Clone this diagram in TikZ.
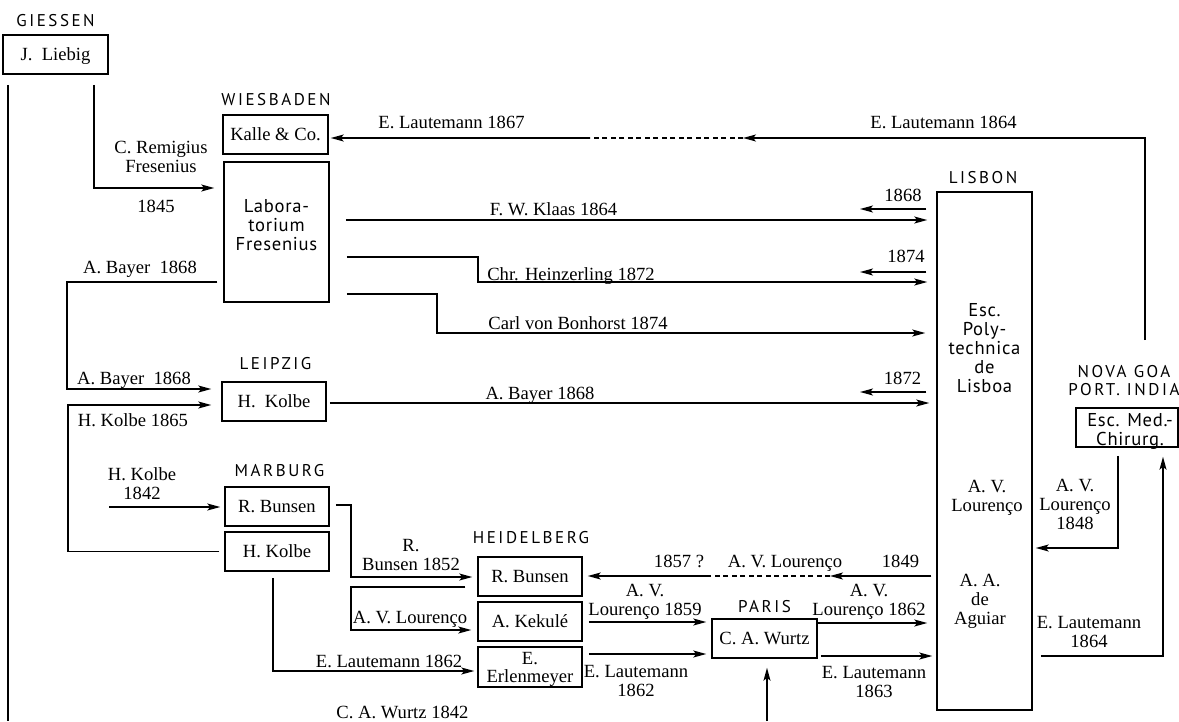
\documentclass[tikz,border=0pt]{standalone}
\usepackage{fontspec}
\setmainfont{Liberation Serif}
\newfontfamily\citysf[LetterSpace=15]{PT Sans}
\newfontfamily\boxsf[LetterSpace=4]{PT Sans}
\usetikzlibrary{arrows.meta}
\newcommand\sz{\fontsize{18.6}{19}\selectfont}
\newcommand\csz{\fontsize{17}{18}\selectfont}
\begin{document}
\begin{tikzpicture}[x=1pt,y=-1pt,
  ln/.style={line width=1.4pt},
  arr/.style={line width=1.4pt,-{Stealth[length=13pt,width=7pt,inset=3pt]}},
  dsh/.style={line width=1.4pt,dash pattern=on 5pt off 3.5pt},
  box/.style={draw,line width=1.5pt,inner sep=0pt,font=\sz,text height=12.3pt,text depth=0pt,minimum width=105pt,minimum height=39pt},
  lab/.style={font=\sz,inner sep=0pt,anchor=base},
  mlab/.style={font=\sz,inner sep=0pt,align=center},
  city/.style={font=\csz\citysf,inner sep=0pt,anchor=base},
  sftext/.style={font=\sz\boxsf,inner sep=0pt,align=center},
]
\useasboundingbox (0,0) rectangle (1179,721);

% ---------- city labels
\node[city] (c-giessen) at (55.5,26) {GIESSEN};
\node[city] (c-wiesbaden) at (276,105) {WIESBADEN};
\node[city] (c-leipzig) at (275.5,369) {LEIPZIG};
\node[city] (c-marburg) at (279.5,476) {MARBURG};
\node[city] (c-heidelberg) at (531,543) {HEIDELBERG};
\node[city] (c-paris) at (764.5,612) {PARIS};
\node[city] (c-lisbon) at (983,183) {LISBON};
\node[font=\csz\citysf,inner sep=0pt,align=center] (c-goa) at (1124,380.5) {NOVA GOA\\PORT. INDIA};

% ---------- boxes
\node[box] (liebig) at (55.5,54.5) {J.\ \ Liebig};
\node[box] (kalle) at (275.5,134.5) {Kalle \& Co.};
\node[box,minimum height=140pt] (labor) at (276.5,232) {};
\node[sftext] (labor-t) at (276.5,225.5) {Labora-\\torium\\Fresenius};
\node[box,minimum width=104pt] (leipzig) at (274,401.5) {H.\ \ Kolbe};
\node[box,minimum width=104pt] (mbunsen) at (277,506.5) {R. Bunsen};
\node[box,minimum width=104pt] (mkolbe) at (277,551.5) {H. Kolbe};
\node[box,minimum width=104pt] (hbunsen) at (530,576.5) {R. Bunsen};
\node[box,minimum width=104pt] (kekule) at (530,621.5) {A. Kekulé};
\node[box,minimum width=104pt,minimum height=40pt] (erlen) at (530,667) {};
\node[mlab] (erlen-t) at (530,669) {E.\\[-1pt]Erlenmeyer};
\node[box] (wurtz) at (764.5,638.5) {C. A. Wurtz};
\node[box,minimum width=95pt,minimum height=518pt] (lisbon) at (984.5,451) {};
\node[sftext] (lisbon-t) at (984.5,348.5) {Esc.\\Poly-\\technica\\de\\Lisboa};
\node[mlab] (lisbon-av) at (987,498.3) {A. V.\\Lourenço};
\node[mlab] (lisbon-aa) at (980,601.8) {A. A.\\de\\Aguiar};
\node[box,minimum width=102pt] (goa) at (1127,427.5) {};
\node[sftext] (goa-t) at (1130,431) {Esc. Med.-\\Chirurg.};

% ---------- free-end coordinates
\coordinate (bottomL) at (8,721);
\coordinate (goaTop) at (1145,340);
\coordinate (d1) at (743,138);
\coordinate (d2) at (590,138);
\coordinate (r1868) at (860,209);
\coordinate (r1874) at (860,272);
\coordinate (r1872) at (860,392);
\coordinate (k1842) at (109,507);
\coordinate (w1842) at (767,721);
\coordinate (l1849) at (830,576);
\coordinate (l1857) at (710,576);

% ---------- connectors
\draw[ln,shorten <=10pt] (liebig.south -| 8,0) -- (bottomL);
\draw[arr,shorten <=10pt,shorten >=9pt] (liebig.south -| 94,0) |- (labor.west |- 0,188);

\draw[arr] (goaTop) |- (d1);
\draw[dsh] (d1) -- (d2);
\draw[arr,shorten >=2pt] (d2) -- (kalle.east |- 0,138);

\draw[arr,shorten <=16pt,shorten >=9pt] (labor.east |- 0,220) -- (lisbon.west |- 0,220);
\draw[arr,shorten <=10pt] (lisbon.west |- 0,209) -- (r1868);
\draw[arr,shorten <=17pt,shorten >=9pt] (labor.east |- 0,257) -| (478,282) -- (lisbon.west |- 0,282);
\draw[arr,shorten <=10pt] (lisbon.west |- 0,272) -- (r1874);
\draw[arr,shorten <=17pt,shorten >=11pt] (labor.east |- 0,294) -| (437,333) -- (lisbon.west |- 0,333);

\draw[arr,shorten <=6pt,shorten >=10pt] (labor.west |- 0,282) -| (67,389) -- (leipzig.west |- 0,389);
\draw[arr,shorten <=5pt,shorten >=10pt] (mkolbe.west) -| (68,405) -- (leipzig.west |- 0,405);
\draw[arr,shorten <=3pt,shorten >=7pt] (leipzig.east |- 0,403) -- (lisbon.west |- 0,403);
\draw[arr,shorten <=10pt] (lisbon.west |- 0,392) -- (r1872);

\draw[arr,shorten >=4pt] (k1842) -- (mbunsen.west |- 0,507);
\draw[arr,shorten <=6pt,shorten >=5pt] (mbunsen.east |- 0,505) -| (351,577) -- (hbunsen.west |- 0,577);
\draw[arr,shorten <=12pt,shorten >=6pt] (hbunsen.west |- 0,587) -| (351,630) -- (kekule.west |- 0,630);
\draw[arr,shorten <=6pt,shorten >=3pt] (mkolbe.south -| 273,0) |- (erlen.west |- 0,671);
\draw[arr,shorten >=9pt] (w1842) -- (wurtz.south -| 767,0);

\draw[arr,shorten <=6pt,shorten >=5pt] (kekule.east |- 0,622) -- (wurtz.west |- 0,622);
\draw[arr,shorten <=6pt,shorten >=5pt] (erlen.east |- 0,654) -- (wurtz.west |- 0,654);
\draw[arr,shorten >=9pt] (wurtz.east |- 0,623) -- (lisbon.west |- 0,623);
\draw[arr,shorten <=3pt,shorten >=4pt] (wurtz.east |- 0,656) -- (lisbon.west |- 0,656);

\draw[arr,shorten <=5pt] (lisbon.west |- 0,576) -- (l1849);
\draw[dsh] (l1849) -- (l1857);
\draw[arr,shorten >=5pt] (l1857) -- (hbunsen.east |- 0,576);

\draw[arr,shorten <=8pt,shorten >=3pt] (goa.south -| 1118,0) |- (lisbon.east |- 0,548);
\draw[arr,shorten <=8pt,shorten >=9pt] (lisbon.east |- 0,656) -| (goa.south -| 1163,0);

% ---------- connector labels
\node[lab] at (451.5,128) {E. Lautemann 1867};
\node[lab] at (943.5,128) {E. Lautemann 1864};
\node[mlab] at (161,157.4) {C. Remigius\\Fresenius};
\node[lab] at (156,212) {1845};
\node[lab] at (553.5,215) {F. W. Klaas 1864};
\node[lab] at (903,201) {1868};
\node[lab] at (571,280) {Chr. Heinzerling 1872};
\node[lab] at (906,262) {1874};
\node[lab] at (578,329) {Carl von Bonhorst 1874};
\node[lab] at (140,273) {A. Bayer\ \ 1868};
\node[lab] at (134,384) {A. Bayer\ \ 1868};
\node[lab] at (133,426) {H. Kolbe 1865};
\node[lab] at (540,399) {A. Bayer 1868};
\node[lab] at (902.5,384) {1872};
\node[mlab] at (142,483.5) {H. Kolbe\\1842};
\node[mlab] at (411,555.4) {R.\\Bunsen 1852};
\node[lab] at (410,623) {A. V. Lourenço};
\node[lab] at (389,667) {E. Lautemann 1862};
\node[lab] at (402.5,718) {C. A. Wurtz 1842};
\node[lab] at (679,567) {1857 ?};
\node[lab] at (785,567) {A. V. Lourenço};
\node[lab] at (900.5,567) {1849};
\node[mlab] at (645,601.8) {A. V.\\Lourenço 1859};
\node[mlab] at (636,681.4) {E. Lautemann\\1862};
\node[mlab] at (869,602.3) {A. V.\\Lourenço 1862};
\node[mlab] at (874,682.4) {E. Lautemann\\1863};
\node[mlab] at (1075,504.9) {A. V.\\Lourenço\\1848};
\node[mlab] at (1089,632.4) {E. Lautemann\\1864};
\end{tikzpicture}
\end{document}
